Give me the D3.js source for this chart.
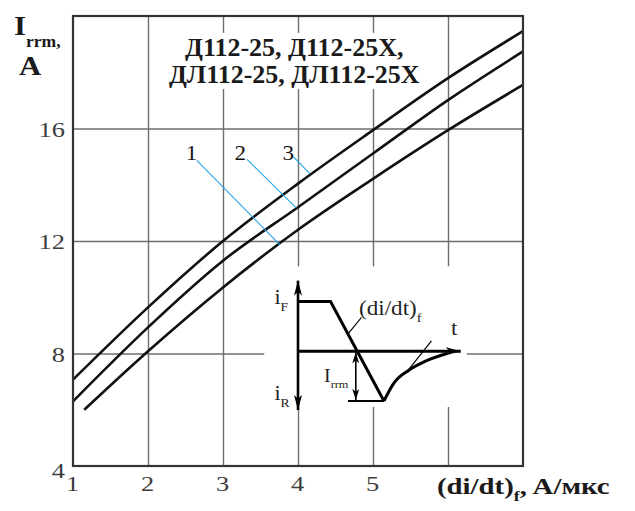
<html lang="ru">
<head>
    <meta charset="UTF-8">
    <title>Irrm vs di/dt</title>
    <style>
        body { margin: 0; background: #fff; }
        text { font-family: "Liberation Serif", "Times New Roman", serif; }
    </style>
</head>
<body>
    <div id="graph"></div>
    <script src="https://d3js.org/d3.v7.min.js"></script>
    <script>
        // data
        var xTicks = [1, 2, 3, 4, 5, 6, 7];
        var xTickLabels = [1, 2, 3, 4, 5];
        var yTicks = [4, 8, 12, 16, 20];
        var curve1X = [1.15, 2, 3, 4, 5, 6, 7];
        var curve1Y = [6.0, 8.08, 10.35, 12.4, 14.21, 15.94, 17.55];
        var curve2X = [1, 2, 3, 4, 5, 6, 7];
        var curve2Y = [6.3, 8.93, 11.3, 13.2, 15.11, 17.01, 18.74];
        var curve3X = [1, 2, 3, 4, 5, 6, 7];
        var curve3Y = [7.07, 9.64, 12.0, 14.04, 15.94, 17.79, 19.46];
        var curveLabels = ["1", "2", "3"];
        // label position, leader start, leader end (data units)
        var labelPos = [[2.58, 15.15], [3.23, 15.15], [3.87, 15.15]];
        var leaderFrom = [[2.65, 14.87], [3.32, 14.9], [3.94, 14.99]];
        var leaderTo = [[3.76, 11.86], [3.98, 13.17], [4.16, 14.39]];
        var titleLines = ["Д112-25, Д112-25Х,", "ДЛ112-25, ДЛ112-25Х"];

        var stretch = 1.2; // lettering in the source is set wide

        // graph
        var margin = {top: 16, right: 112, bottom: 45, left: 73},
            width = 635 - margin.left - margin.right,
            height = 511 - margin.top - margin.bottom;

        var x = d3.scaleLinear().domain([1, 7]).range([0, width]);
        var y = d3.scaleLinear().domain([4, 20]).range([height, 0]);

        var svg = d3.select("#graph").append("svg")
            .attr("width", 635)
            .attr("height", 511);
        var defs = svg.append("defs");
        var g = svg.append("g")
            .attr("transform", "translate(" + margin.left + "," + margin.top + ")");

        // grid
        g.append("g")
            .attr("class", "grid")
            .attr("transform", "translate(0," + height + ")")
            .call(d3.axisBottom(x).tickValues(xTicks.slice(1, -1)).tickSize(-height).tickFormat(""))
            .call(function(s) { s.select(".domain").remove(); });
        g.append("g")
            .attr("class", "grid")
            .call(d3.axisLeft(y).tickValues(yTicks.slice(1, -1)).tickSize(-width).tickFormat(""))
            .call(function(s) { s.select(".domain").remove(); });
        g.selectAll(".grid line").attr("stroke", "#6e6e6e").attr("stroke-width", 1.4);

        // white boxes behind the title and the inset
        g.append("rect")
            .attr("x", x(2.16)).attr("y", y(19.4))
            .attr("width", x(5.68) - x(2.16)).attr("height", y(17.4) - y(19.4))
            .attr("fill", "#fff");
        g.append("rect")
            .attr("x", x(3.55)).attr("y", y(11.1))
            .attr("width", x(6.25) - x(3.55)).attr("height", y(6.1) - y(11.1))
            .attr("fill", "#fff");

        // tick labels
        var ax = g.append("g")
            .attr("transform", "translate(0," + height + ")")
            .call(d3.axisBottom(x).tickValues(xTickLabels).tickFormat(d3.format("d")).tickSize(0).tickPadding(0));
        var ay = g.append("g")
            .call(d3.axisLeft(y).tickValues(yTicks.slice(0, -1)).tickFormat(d3.format("d")).tickSize(0).tickPadding(0));
        [ax, ay].forEach(function(a) {
            a.select(".domain").remove();
            a.selectAll("text")
                .attr("fill", "#3c3c3c")
                .style("font-family", "'Liberation Serif', serif")
                .style("font-size", "22px");
        });
        ax.selectAll("text").attr("y", 0).attr("dy", 0)
            .attr("transform", "translate(-1,25) scale(" + stretch + ",1)");
        ay.selectAll("text").attr("x", 0).attr("dy", "0.36em")
            .attr("transform", "translate(-8,0) scale(" + stretch + ",1)");
        ay.selectAll(".tick").filter(function(d) { return d === 4; })
            .select("text").attr("dy", "0.5em");

        // curves
        var line = d3.line()
            .x(function(d) { return x(d[0]); })
            .y(function(d) { return y(d[1]); })
            .curve(d3.curveMonotoneX);
        [[curve1X, curve1Y], [curve2X, curve2Y], [curve3X, curve3Y]].forEach(function(c) {
            g.append("path")
                .datum(d3.zip(c[0], c[1]))
                .attr("fill", "none")
                .attr("stroke", "#111")
                .attr("stroke-width", 2.6)
                .attr("d", line);
        });

        // curve numbers with leaders
        g.selectAll(".leader")
            .data(curveLabels)
            .enter().append("line")
            .attr("class", "leader")
            .attr("x1", function(d, i) { return x(leaderFrom[i][0]); })
            .attr("y1", function(d, i) { return y(leaderFrom[i][1]); })
            .attr("x2", function(d, i) { return x(leaderTo[i][0]); })
            .attr("y2", function(d, i) { return y(leaderTo[i][1]); })
            .attr("stroke", "#1ea5e6")
            .attr("stroke-width", 1.1);
        g.selectAll(".cnum")
            .data(curveLabels)
            .enter().append("text")
            .attr("class", "cnum")
            .attr("transform", function(d, i) {
                return "translate(" + x(labelPos[i][0]) + "," + y(labelPos[i][1]) + ") scale(1.1,1)";
            })
            .attr("dy", "0.35em")
            .attr("text-anchor", "middle")
            .attr("font-size", 21)
            .attr("fill", "#111")
            .text(function(d) { return d; });

        // frame
        g.append("rect")
            .attr("width", width).attr("height", height)
            .attr("fill", "none")
            .attr("stroke", "#333")
            .attr("stroke-width", 2.2);

        // title
        g.selectAll(".title")
            .data(titleLines)
            .enter().append("text")
            .attr("class", "title")
            .attr("transform", function(d, i) {
                return "translate(" + x(3.95) + "," + (y(18.57) + i * 27) + ") scale(1.04,1)";
            })
            .attr("text-anchor", "middle")
            .attr("font-size", 25)
            .attr("font-weight", "bold")
            .attr("fill", "#1a1a1a")
            .text(function(d) { return d; });

        // axis titles
        var yt = svg.append("text").attr("transform", "translate(14,35) scale(1.1,1)")
            .attr("font-weight", "bold").attr("fill", "#1a1a1a");
        yt.append("tspan").attr("font-size", 28).text("I");
        yt.append("tspan").attr("dy", 12).attr("font-size", 16).text("rrm,");
        svg.append("text").attr("transform", "translate(19,75) scale(1.1,1)").attr("font-size", 28)
            .attr("font-weight", "bold").attr("fill", "#1a1a1a").text("A");

        var xt = svg.append("text").attr("transform", "translate(437,494) scale(" + stretch + ",1)")
            .attr("font-weight", "bold").attr("fill", "#1a1a1a").attr("font-size", 24);
        xt.append("tspan").text("(di/dt)");
        xt.append("tspan").attr("dy", 7).attr("font-size", 15).text("f");
        xt.append("tspan").attr("dy", -7).text(", A/мкс");

        // inset: reverse recovery sketch
        var ix = d3.scaleLinear().domain([0, 1]).range([x(4) + margin.left, x(6.17) + margin.left]);
        var iy = d3.scaleLinear().domain([-1, 1]).range([401, 301.5]);
        var inset = svg.append("g");

        function arrowMarker(id, len, half) {
            defs.append("marker")
                .attr("id", id)
                .attr("viewBox", "0 0 " + len + " " + (2 * half))
                .attr("refX", len).attr("refY", half)
                .attr("markerWidth", len).attr("markerHeight", 2 * half)
                .attr("markerUnits", "userSpaceOnUse")
                .attr("orient", "auto-start-reverse")
                .append("path")
                .attr("d", "M0,0L" + len + "," + half + "L0," + (2 * half) + "L" + (len * 0.25) + "," + half + "Z")
                .attr("fill", "#000");
        }
        arrowMarker("arrBig", 15, 4);
        arrowMarker("arrSmall", 11, 3.5);

        var iline = d3.line()
            .x(function(d) { return ix(d[0]); })
            .y(function(d) { return iy(d[1]); });

        // axes
        inset.append("path")
            .attr("d", iline([[0, 1.42], [0, -1.18]]))
            .attr("stroke", "#000").attr("stroke-width", 2.6)
            .attr("marker-start", "url(#arrBig)").attr("marker-end", "url(#arrBig)");
        inset.append("path")
            .attr("d", iline([[0, 0], [1, 0]]))
            .attr("stroke", "#000").attr("stroke-width", 3)
            .attr("marker-end", "url(#arrBig)");
        // waveform
        inset.append("path")
            .attr("d", iline([[0, 1], [0.2, 1], [0.528, -1]]))
            .attr("fill", "none").attr("stroke", "#000").attr("stroke-width", 3);
        inset.append("path")
            .datum([[0.528, -1], [0.589, -0.64], [0.681, -0.38], [0.783, -0.2], [0.92, -0.04]])
            .attr("d", iline.curve(d3.curveMonotoneX))
            .attr("fill", "none").attr("stroke", "#000").attr("stroke-width", 3);
        iline.curve(d3.curveLinear);
        // Irrm level and tangent
        inset.append("path")
            .attr("d", iline([[0.307, -1], [0.528, -1]]))
            .attr("stroke", "#000").attr("stroke-width", 2);
        inset.append("path")
            .attr("d", iline([[0.66, -0.45], [0.82, 0.21]]))
            .attr("stroke", "#000").attr("stroke-width", 1.2);
        inset.append("path")
            .attr("d", iline([[0.355, -0.02], [0.355, -0.98]]))
            .attr("stroke", "#000").attr("stroke-width", 1.6)
            .attr("marker-start", "url(#arrSmall)").attr("marker-end", "url(#arrSmall)");
        // di/dt leader
        inset.append("path")
            .attr("d", iline([[0.39, 0.68], [0.31, 0.36]]))
            .attr("stroke", "#000").attr("stroke-width", 1.1);

        function subLabel(px, py, main, sub, size) {
            var t = inset.append("text")
                .attr("transform", "translate(" + px + "," + py + ") scale(1.1,1)")
                .attr("font-size", size).attr("fill", "#222");
            t.append("tspan").text(main);
            t.append("tspan").attr("dy", size * 0.33).attr("font-size", size * 0.62).text(sub);
        }
        subLabel(ix(-0.145), iy(0.95), "i", "F", 20);
        subLabel(ix(-0.145), iy(-0.98), "i", "R", 20);
        subLabel(ix(0.16), iy(-0.62), "I", "rrm", 18);
        subLabel(ix(0.375), iy(0.72), "(di/dt)", "f", 21);
        inset.append("text").attr("transform", "translate(" + ix(0.94) + "," + iy(0.33) + ") scale(1.1,1)")
            .attr("font-size", 21).attr("fill", "#222").text("t");
    </script>
</body>
</html>
